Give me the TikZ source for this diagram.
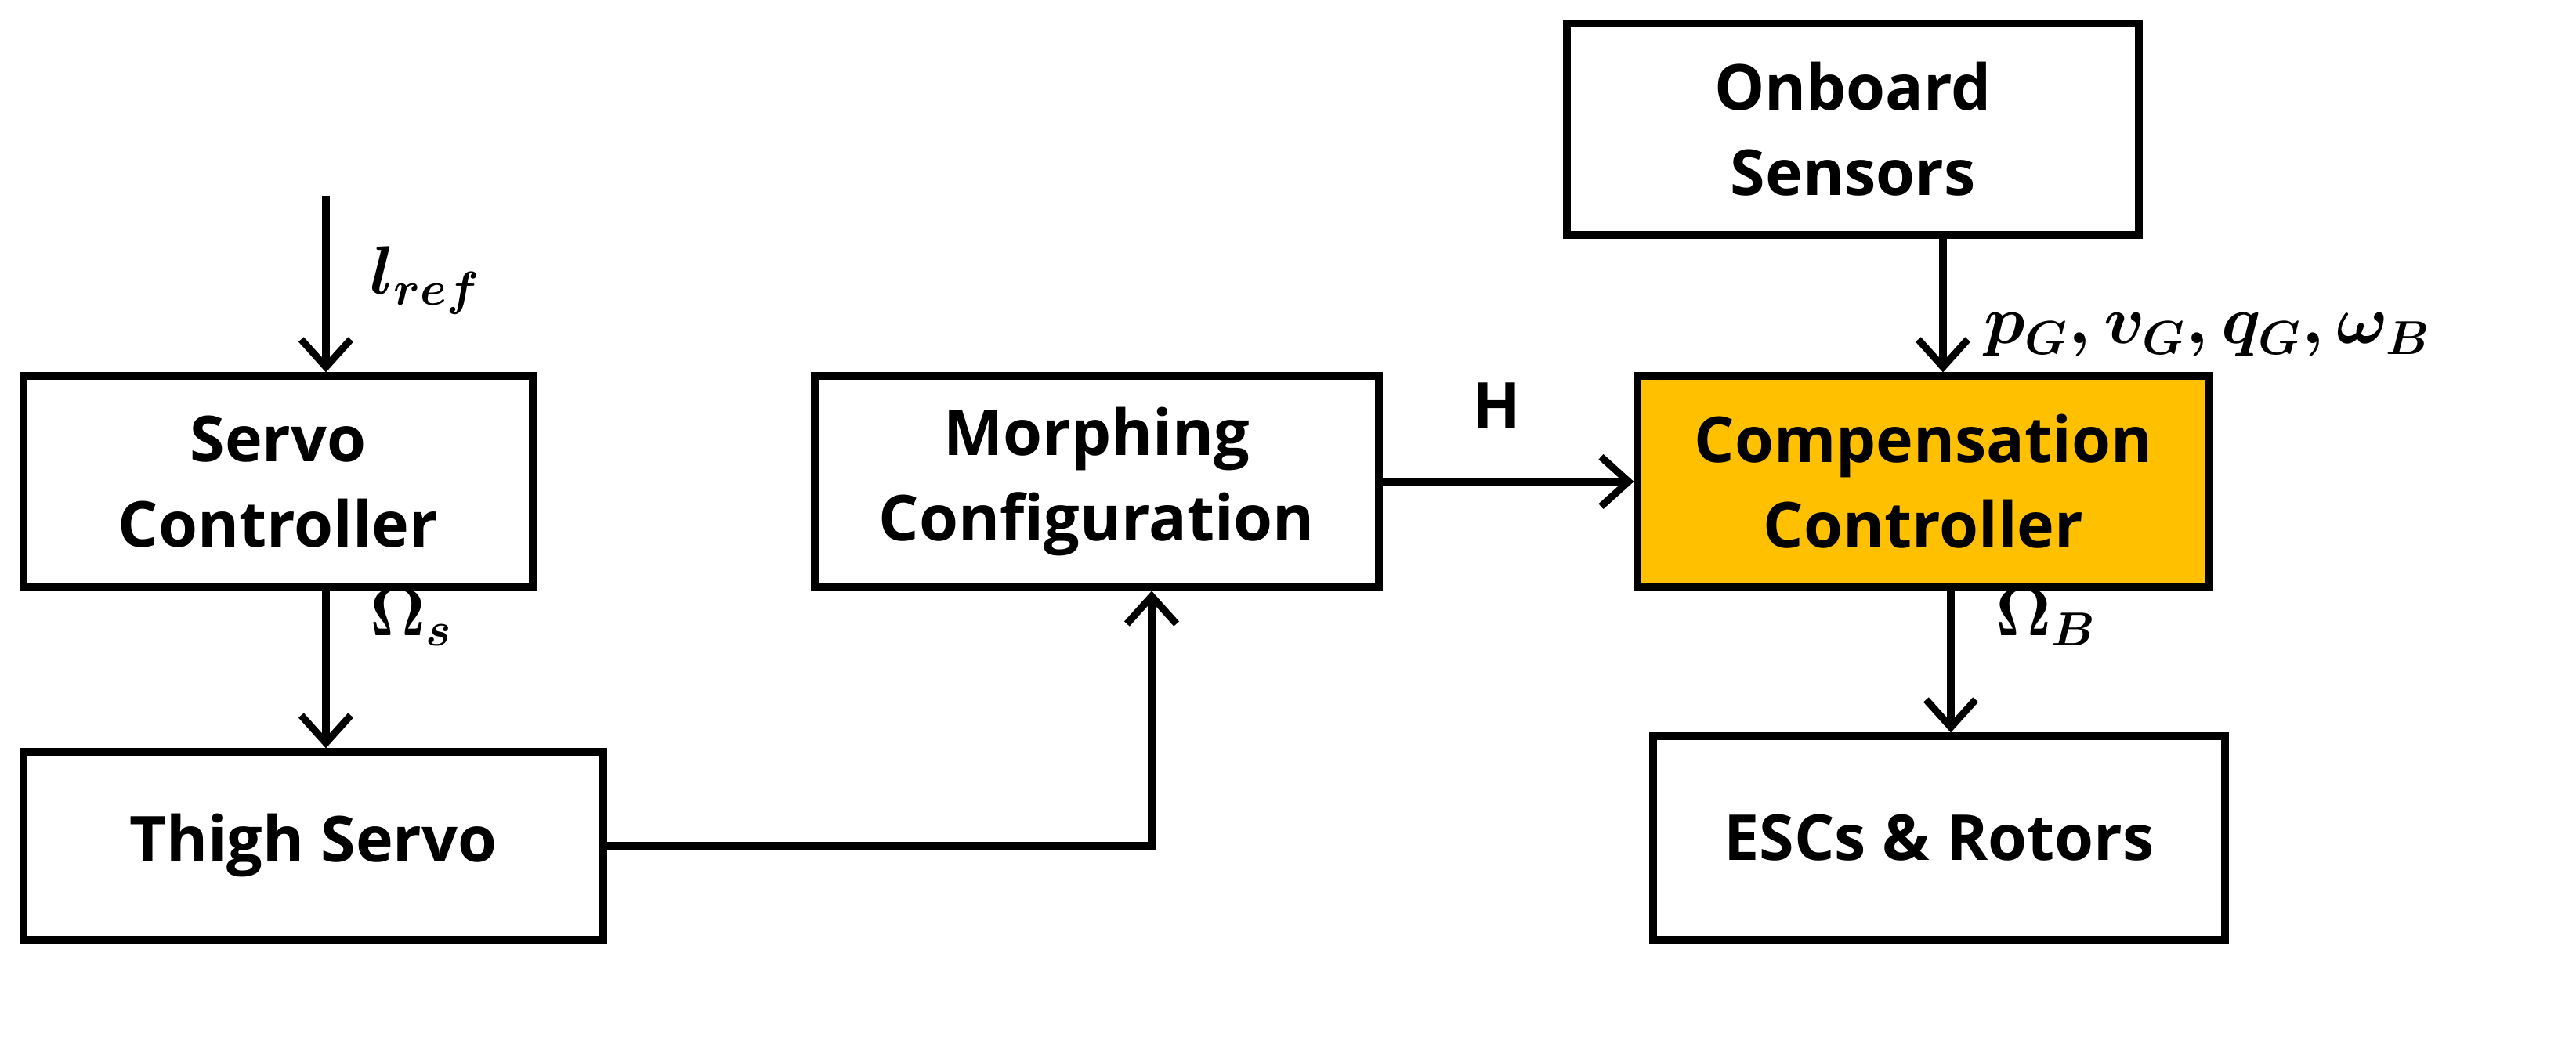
\documentclass[tikz,border=0pt]{standalone}
\usepackage{fontspec}
\usepackage{amsmath}
\setmainfont{Open Sans}
\usetikzlibrary{arrows.meta}
\definecolor{compfill}{HTML}{FFC000}
\tikzset{
  blk/.style={draw=black, line width=2.6pt, align=center, font=\fontsize{23}{31}\selectfont\bfseries,
    minimum width=7.3cm, minimum height=2.7cm, inner sep=0pt},
  sig/.style={line width=2.6pt, -{Straight Barb[length=10pt,width=18pt,line width=2.6pt]}},
  lbl/.style={font=\fontsize{26}{30}\selectfont\boldmath}
}
\begin{document}
\begin{tikzpicture}

    \useasboundingbox (0,0) rectangle (32.88,13.28);

    \node[blk, minimum width=6.5cm] (servo) at (3.55,7.13) {Servo\\Controller};
    \node[blk, minimum width=7.4cm, minimum height=2.4cm] (thigh) at (4.0,2.48) {Thigh Servo};
    \node[blk, minimum width=7.2cm] (morph) at (14.0,7.13) {Morphing\\Configuration};
    \node[blk, fill=compfill] (comp) at (24.55,7.13) {Compensation\\Controller};
    \node[blk] (onboard) at (23.65,11.63) {Onboard\\Sensors};
    \node[blk, minimum height=2.6cm] (esc) at (24.75,2.58) {ESCs \& Rotors};

    \coordinate (lref) at (4.16,10.78);
    \draw[sig] (lref) -- (lref |- servo.north);
    \draw[sig] (servo.south -| lref) -- (thigh.north -| lref);
    \draw[sig] (thigh.east) -| ([xshift=0.7cm]morph.south);
    \draw[sig] (morph.east) -- (comp.west);
    \coordinate (sens) at (24.8,0);
    \draw[sig] (onboard.south -| sens) -- (comp.north -| sens);
    \coordinate (rot) at (24.9,0);
    \draw[sig] (comp.south -| rot) -- (esc.north -| rot);

    \node[lbl, anchor=west] (A) at (4.6,9.7) {$l_{ref}$};
    \node[lbl, anchor=west] (A) at (4.6,5.4) {$\Omega_{s}$};
    \node[lbl, font=\fontsize{23}{28}\selectfont\bfseries] (A) at (19.1,8.1) {H};
    \node[lbl, anchor=west] (A) at (25.2,9.0) {$p_{G}, v_{G}, q_{G}, \omega_{B}$};
    \node[lbl, anchor=west] (A) at (25.35,5.4) {$\Omega_{B}$};
  \end{tikzpicture}
\end{document}
